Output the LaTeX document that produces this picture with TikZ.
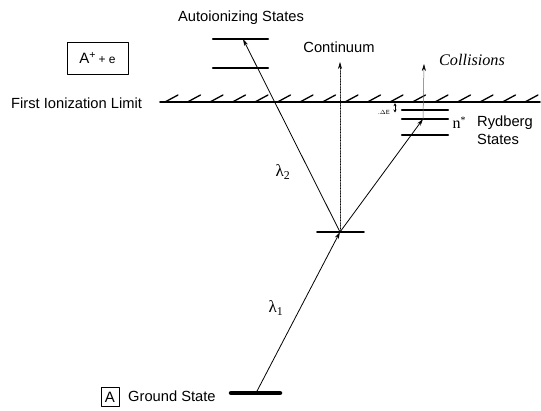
\documentclass[tikz,border=0pt]{standalone}
\usepackage{fontspec}
\setmainfont{Liberation Sans}
\newfontfamily\seriffont{Liberation Serif}
\usetikzlibrary{arrows.meta}

\begin{document}
\begin{tikzpicture}[x=1pt, y=-1pt, line cap=round, line join=round]
  % arrow tip used by all transitions
  \def\arr{-{Stealth[width=4pt,length=7pt]}}
  \tikzset{
    level/.style={line width=2.2pt},
    lbl/.style={inner sep=0pt, font=\fontsize{14.7}{17.5}\selectfont},
    boxlbl/.style={draw, line width=0.8pt, inner sep=0pt, font=\fontsize{15}{18}\selectfont},
    lam/.style={inner sep=0pt, font=\seriffont\fontsize{17}{20}\selectfont},
  }

  % ════ first ionization limit (hatched line) ════
  \draw[line width=1.8pt] (160,102) -- (540,102);
  \foreach \k in {0,...,16}{%
    \pgfmathsetmacro\hx{165+22.5*\k}%
    \draw[line width=1.3pt] (\hx,102) -- ({\hx+13},95);}

  % ════ energy levels ════
  \draw[level] (213,39) -- (268,39);            % autoionizing, upper
  \draw[level] (213,68) -- (268,68);            % autoionizing, lower
  \draw[level] (402,110) -- (448,110);          % Rydberg levels
  \draw[level] (402,119) -- (448,119);
  \draw[level] (402,135) -- (448,135);
  \draw[line width=1.8pt] (317,232) -- (364,232); % intermediate level
  \draw[line width=4.5pt] (231,393) -- (280,393); % ground state

  \coordinate (gnd) at (256,393);
  \coordinate (mid) at (340,232);
  \coordinate (auto) at (243,39);
  \coordinate (ryd) at (423,119);
  \coordinate (cont) at (340,62);
  \coordinate (coll) at (424,64);
  \coordinate (dEtop) at (395,103.2);
  \coordinate (dEbot) at (395,112.5);

  % ════ transitions ════
  \draw[line width=0.8pt, \arr] (gnd) -- (mid);
  \draw[line width=0.8pt, \arr] (mid) -- (auto);
  \draw[line width=0.8pt, \arr] (mid) -- (ryd);
  \draw[line width=0.6pt, densely dotted, \arr] (mid) -- (cont);
  \draw[line width=0.5pt, black!60, -{Stealth[width=4pt,length=7pt,black]}] (ryd) -- (coll);
  \draw[line width=0.6pt, line cap=butt, {Stealth[width=3pt,length=3pt]}-{Stealth[width=3pt,length=3pt]}] (dEtop) -- (dEbot);

  % ════ labels ════
  \node[lbl] (autolbl) at (241,18) {Autoionizing States};
  \node[boxlbl, minimum width=61pt, minimum height=32pt] (ion) at (97.5,58) {A\textsuperscript{+}\,{\fontsize{12}{14}\selectfont + e}};
  \node[lbl, anchor=west] (limit) at (11,103) {First Ionization Limit};
  \node[lbl] (contlbl) at (339,47) {Continuum};
  \node[inner sep=0pt, font=\seriffont\itshape\fontsize{16.2}{19}\selectfont] (colllbl) at (472,60) {Collisions};
  \node[inner sep=0pt, font=\fontsize{6}{7}\selectfont] (dElbl) at (384,112) {.$\Delta$E};
  \node[inner sep=0pt, font=\seriffont\fontsize{16}{19}\selectfont] (nstar) at (459,123) {n\raisebox{5pt}{\fontsize{10}{10}\selectfont*}};
  \node[lbl, anchor=west, align=left] (rydlbl) at (477,130) {Rydberg\\States};
  \node[lam] (lam2) at (283,172) {λ\textsubscript{2}};
  \node[lam] (lam1) at (276,308) {λ\textsubscript{1}};
  \node[boxlbl, minimum width=18pt, minimum height=19pt] (gndbox) at (110,397) {A};
  \node[lbl, anchor=west] (gndlbl) at (128,396) {Ground State};

  \path[use as bounding box] (0,0) rectangle (541,410);
\end{tikzpicture}
\end{document}
